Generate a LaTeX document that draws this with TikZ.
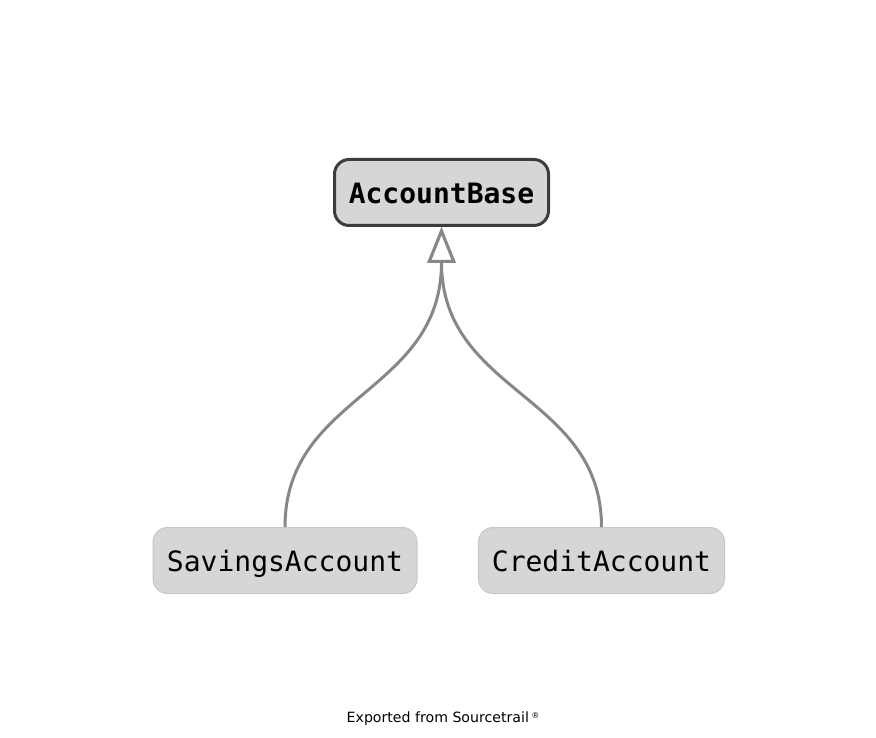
\documentclass[tikz,border=0pt]{standalone}
\usepackage{fontspec}
\setmainfont{DejaVu Sans}
\setmonofont{DejaVu Sans Mono}
\usepackage{xcolor}
\usepackage{tikz}
\usetikzlibrary{positioning,arrows.meta}

\definecolor{nodefill}{HTML}{D6D6D6}
\definecolor{mainborder}{HTML}{3C3C3C}
\definecolor{subborder}{HTML}{C6C6C6}
\definecolor{edgegray}{HTML}{878787}

\begin{document}
\begin{tikzpicture}[x=0.75pt, y=-0.75pt,
  classbox/.style={draw, rectangle, rounded corners=11pt, fill=nodefill, inner sep=0pt,
    text height=17pt, text depth=0pt, font=\ttfamily\fontsize{21}{24}\selectfont},
  basebox/.style={classbox, draw=mainborder, line width=2.25pt, font=\ttfamily\bfseries\fontsize{21}{24}\selectfont},
  subbox/.style={classbox, draw=subborder, line width=0.75pt},
  inherit/.style={draw=edgegray, line width=2.25pt,
    -{Triangle[open, fill=white, length=27pt, width=21pt, line width=2.25pt]}}]
\useasboundingbox (0,0) rectangle (876,738);
\node[basebox, minimum width=160.5pt, minimum height=49.5pt] (base) at (441.5,192.5) {AccountBase};
\node[subbox, minimum width=198pt, minimum height=49.5pt] (savings) at (285,560.5) {SavingsAccount};
\node[subbox, minimum width=184.5pt, minimum height=49.5pt] (credit) at (601.5,560.5) {CreditAccount};
\draw[inherit] (savings.north) .. controls +(0,-133) and +(0,167) .. (base.south);
\draw[inherit] (credit.north) .. controls +(0,-133) and +(0,167) .. (base.south);
\node[font=\fontsize{10.6}{12}\selectfont] (footer) at (443,719) {Exported from Sourcetrail\,\raisebox{0.6ex}{\fontsize{6}{7}\selectfont\textregistered}};
\end{tikzpicture}
\end{document}
